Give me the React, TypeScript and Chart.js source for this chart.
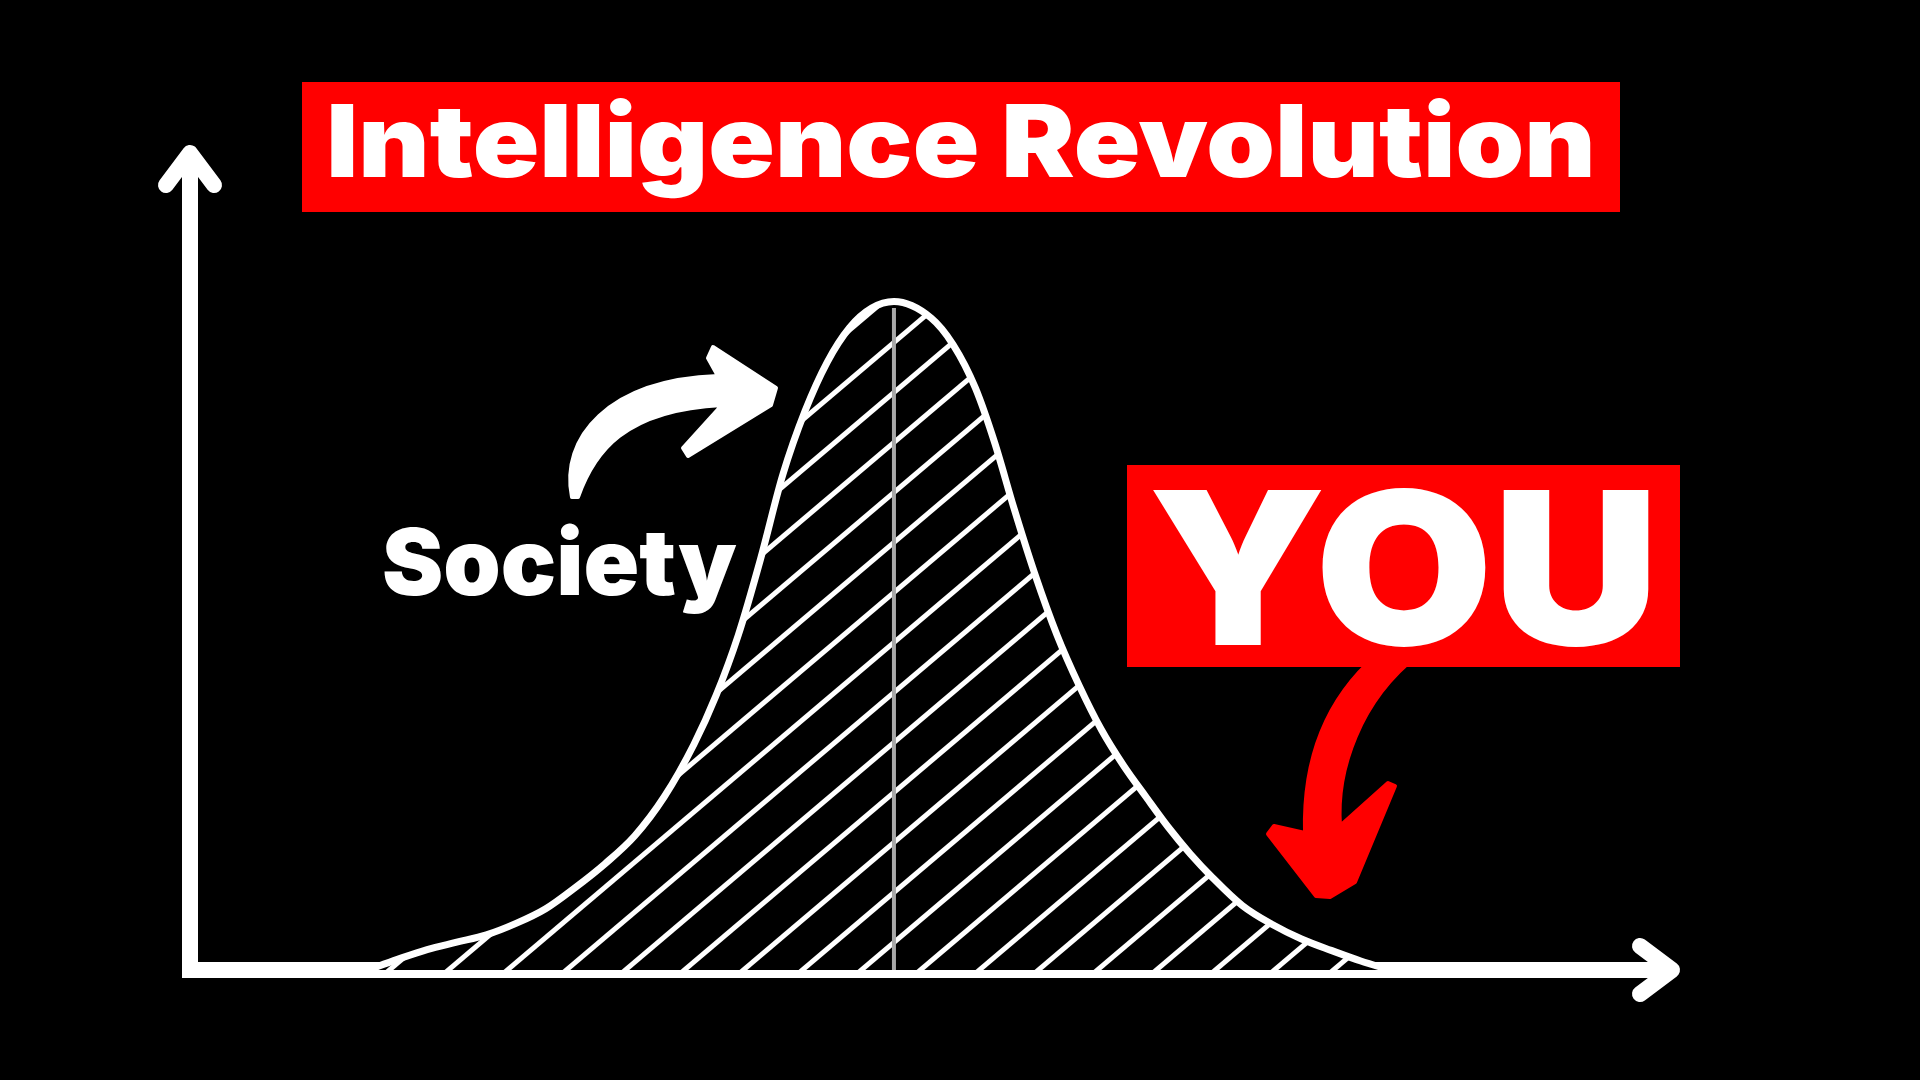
import { useEffect, useRef } from 'react'
import Chart from 'chart.js/auto'

// bell curve outline (x along the axis 0..100, y up)
const curveX = [12.0, 14.0, 16.0, 18.0, 20.0, 22.0, 24.0, 26.0, 28.0, 30.0, 32.0, 34.0, 35.5, 37.0, 38.5, 40.0, 41.5, 43.0, 44.5, 46.0, 47.5, 50.0, 51.5, 53.0, 54.3, 55.6, 57.0, 58.5, 60.0, 61.5, 63.0, 64.5, 66.0, 67.5, 69.0, 71.0, 73.0, 75.0, 77.0, 79.0, 81.0]
const curveY = [0, 1.3, 2.5, 3.4, 4.3, 5.7, 7.5, 10.1, 13.0, 16.4, 21.2, 27.6, 33.6, 41.0, 50.3, 60.6, 68.4, 74.4, 78.6, 81.0, 81.8, 79.8, 76.5, 71.2, 64.5, 56.5, 48.5, 41.0, 34.8, 29.4, 25.0, 21.2, 17.5, 14.2, 11.3, 7.9, 5.6, 3.8, 2.4, 1.1, 0]

// the grey centre line
const peakX = 47.5
const peakTop = 81.0

const xMin = 0
const xMax = 100
const yMin = 0
const yMax = 99

const titleText = 'Intelligence Revolution'
const crowdLabel = 'Society'
const youLabel = 'YOU'

const RED = '#ff0000'
const FONT = 'Inter, "Open Sans", sans-serif'

function makeHatch(): CanvasPattern | string {
  const w = 59
  const h = 50
  const tile = document.createElement('canvas')
  tile.width = w
  tile.height = h
  const c = tile.getContext('2d')
  if (!c) return '#000'
  c.fillStyle = '#000'
  c.fillRect(0, 0, w, h)
  c.strokeStyle = '#fff'
  c.lineWidth = 5
  for (const dx of [-w, 0, w]) {
    c.beginPath()
    c.moveTo(dx - w, 2 * h)
    c.lineTo(dx + 2 * w, -h)
    c.stroke()
  }
  return c.createPattern(tile, 'repeat') ?? '#000'
}

// axis arrow heads and the two hand drawn pointers
const decorations = {
  id: 'decorations',
  afterDraw(chart: Chart) {
    const { ctx, chartArea: a } = chart
    ctx.save()
    ctx.strokeStyle = '#fff'
    ctx.lineWidth = 16
    ctx.lineCap = 'round'
    ctx.lineJoin = 'round'
    const top = a.top - 8
    ctx.beginPath()
    ctx.moveTo(a.left - 24, top + 32)
    ctx.lineTo(a.left, top)
    ctx.lineTo(a.left + 24, top + 32)
    ctx.stroke()
    ctx.beginPath()
    ctx.moveTo(a.right - 32, a.bottom - 24)
    ctx.lineTo(a.right, a.bottom)
    ctx.lineTo(a.right - 32, a.bottom + 24)
    ctx.stroke()

    // white pointer towards the curve
    ctx.fillStyle = '#fff'
    ctx.strokeStyle = '#fff'
    ctx.lineWidth = 4
    ctx.beginPath()
    ctx.moveTo(572, 497)
    ctx.bezierCurveTo(560, 438, 608, 380, 718, 376)
    ctx.lineTo(708, 358)
    ctx.lineTo(713, 347)
    ctx.lineTo(776, 388)
    ctx.lineTo(771, 405)
    ctx.lineTo(688, 456)
    ctx.lineTo(683, 448)
    ctx.lineTo(722, 405)
    ctx.bezierCurveTo(624, 410, 594, 452, 578, 497)
    ctx.closePath()
    ctx.fill()
    ctx.stroke()

    // red pointer from the YOU box to the tail
    ctx.fillStyle = RED
    ctx.strokeStyle = RED
    ctx.beginPath()
    ctx.moveTo(1377, 655)
    ctx.bezierCurveTo(1325, 700, 1303, 760, 1305, 833)
    ctx.lineTo(1274, 826)
    ctx.lineTo(1268, 834)
    ctx.lineTo(1316, 896)
    ctx.lineTo(1330, 897)
    ctx.lineTo(1355, 882)
    ctx.lineTo(1395, 786)
    ctx.lineTo(1388, 783)
    ctx.lineTo(1340, 826)
    ctx.bezierCurveTo(1336, 770, 1360, 700, 1418, 655)
    ctx.closePath()
    ctx.fill()
    ctx.stroke()
    ctx.restore()
  },
}

export default function App() {
  const canvasRef = useRef<HTMLCanvasElement>(null)
  const chartRef = useRef<Chart | null>(null)

  useEffect(() => {
    if (!canvasRef.current) return
    if (chartRef.current) chartRef.current.destroy()
    const ctx = canvasRef.current.getContext('2d')
    if (!ctx) return

    const axisStyle = {
      type: 'linear' as const,
      z: 1,
      grid: { display: false, drawTicks: false },
      ticks: { display: false },
      border: { display: true, color: '#fff', width: 16 },
    }

    chartRef.current = new Chart(ctx, {
      type: 'line',
      data: {
        datasets: [
          {
            label: 'centre',
            data: [
              { x: peakX, y: yMin },
              { x: peakX, y: peakTop },
            ],
            borderColor: '#a8a8a8',
            borderWidth: 4,
            pointRadius: 0,
            fill: false,
            order: 0,
          },
          {
            label: 'curve',
            data: curveX.map((x, i) => ({ x, y: curveY[i] })),
            borderColor: '#fff',
            borderWidth: 7,
            backgroundColor: makeHatch(),
            fill: 'origin',
            pointRadius: 0,
            cubicInterpolationMode: 'monotone',
            borderCapStyle: 'round',
            borderJoinStyle: 'round',
            order: 1,
          },
        ],
      },
      options: {
        animation: false,
        responsive: true,
        maintainAspectRatio: false,
        layout: { padding: { left: 190, top: 161, right: 248, bottom: 110 } },
        plugins: { legend: { display: false }, tooltip: { enabled: false } },
        scales: {
          x: { ...axisStyle, min: xMin, max: xMax },
          y: { ...axisStyle, min: yMin, max: yMax },
        },
      },
      plugins: [decorations],
    })

    return () => {
      if (chartRef.current) {
        chartRef.current.destroy()
        chartRef.current = null
      }
    }
  }, [])

  return (
    <div style={{ position: 'fixed', left: 0, top: 0, width: 1920, height: 1080, background: '#000', overflow: 'hidden' }}>
      <canvas ref={canvasRef} style={{ position: 'absolute', left: 0, top: 0 }} />
      <div style={{ position: 'absolute', left: 302, top: 82, width: 1318, height: 130, background: RED }}>
        <div
          style={{
            position: 'absolute',
            left: 0,
            right: 0,
            top: 9,
            textAlign: 'center',
            color: '#fff',
            fontFamily: FONT,
            fontWeight: 900,
            fontSize: 100,
            lineHeight: '100px',
            whiteSpace: 'nowrap',
            transform: 'scaleX(1.1)',
          }}
        >
          {titleText}
        </div>
      </div>
      <div
        style={{
          position: 'absolute',
          left: 382,
          top: 516,
          color: '#fff',
          fontFamily: FONT,
          fontWeight: 900,
          fontSize: 92,
          lineHeight: '92px',
          whiteSpace: 'nowrap',
        }}
      >
        {crowdLabel}
      </div>
      <div style={{ position: 'absolute', left: 1127, top: 465, width: 553, height: 202, background: RED }}>
        <div
          style={{
            position: 'absolute',
            left: 0,
            right: 0,
            top: -4,
            textAlign: 'center',
            color: '#fff',
            fontFamily: FONT,
            fontWeight: 900,
            fontSize: 213,
            lineHeight: '213px',
            whiteSpace: 'nowrap',
            transform: 'scaleX(1.08)',
          }}
        >
          {youLabel}
        </div>
      </div>
    </div>
  )
}
